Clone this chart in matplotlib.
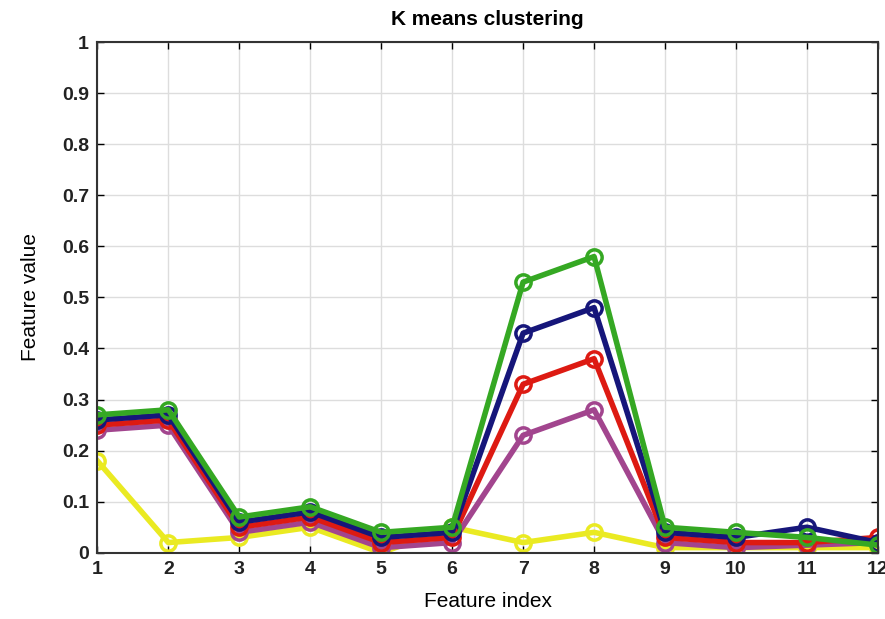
import numpy as np
import matplotlib.pyplot as plt

plt.rcParams['font.family'] = ['Liberation Sans', 'DejaVu Sans']

feature_index = np.arange(1, 13)
yellow = [0.18, 0.02, 0.03, 0.05, 0.00, 0.05, 0.02, 0.04, 0.01, 0.01, 0.01, 0.01]
purple = [0.24, 0.25, 0.04, 0.06, 0.01, 0.02, 0.23, 0.28, 0.02, 0.01, 0.015, 0.02]
red = [0.25, 0.26, 0.05, 0.07, 0.02, 0.03, 0.33, 0.38, 0.03, 0.02, 0.02, 0.03]
blue = [0.26, 0.27, 0.06, 0.08, 0.03, 0.04, 0.43, 0.48, 0.04, 0.03, 0.05, 0.02]
green = [0.27, 0.28, 0.07, 0.09, 0.04, 0.05, 0.53, 0.58, 0.05, 0.04, 0.03, 0.015]

series = [yellow, purple, red, blue, green]
colors = ['#eaea22', '#a2458e', '#dd1a12', '#16167a', '#35a823']

fig = plt.figure(figsize=(8.85, 6.19), dpi=100)
ax = fig.add_axes([0.110, 0.107, 0.882, 0.825])

for vals, c in zip(series, colors):
    ax.plot(feature_index, vals, color=c, lw=4, marker='o', ms=11,
            mfc='none', mec=c, mew=2.5)

ax.set_xlim(1, 12)
ax.set_ylim(0, 1)
ax.set_xticks(feature_index)
ax.set_yticks(np.round(np.arange(0, 1.01, 0.1), 1))
ax.set_yticklabels(['0', '0.1', '0.2', '0.3', '0.4', '0.5', '0.6', '0.7', '0.8', '0.9', '1'])
ax.tick_params(direction='in', labelsize=14, length=5, width=1, top=True, right=True,
               labeltop=False, labelright=False, pad=6)
for lbl in ax.get_xticklabels() + ax.get_yticklabels():
    lbl.set_fontweight('bold')
    lbl.set_color('#222222')
ax.grid(True, color='#dddddd', lw=1)
ax.set_axisbelow(True)
for sp in ax.spines.values():
    sp.set_color('#333333')
    sp.set_linewidth(1.5)

ax.set_title('K means clustering', fontsize=15, fontweight='bold', pad=12)
ax.set_xlabel('Feature index', fontsize=15, labelpad=10)
ax.set_ylabel('Feature value', fontsize=15, labelpad=16)

fig.savefig('out.png', dpi=100)
